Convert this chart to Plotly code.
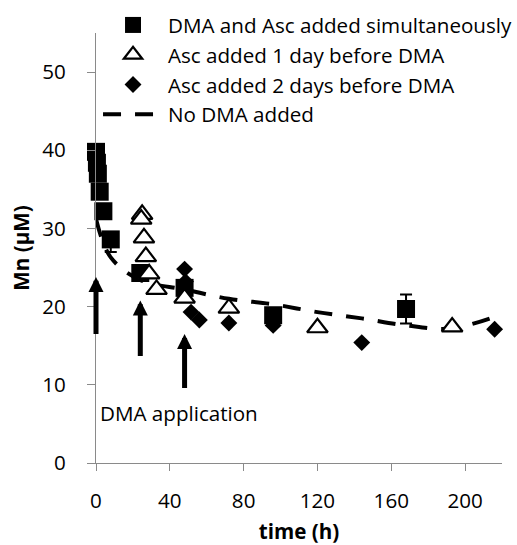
import plotly.graph_objects as go

# --- data -------------------------------------------------------------
# DMA and Asc added simultaneously
sim_t = [0, 0.5, 1, 2, 4, 8, 24, 48, 96, 168]
sim_mn = [39.8, 38.4, 37.0, 34.7, 32.2, 28.6, 24.3, 22.4, 18.9, 19.7]
sim_err_plus = [0, 0, 0, 0, 0, 0, 0, 0, 0, 1.85]
sim_err_minus = [0, 0, 0, 0, 0, 1.6, 0, 0, 0, 1.85]

# Asc added 1 day before DMA
asc1_t = [25, 24.5, 26, 27, 28.8, 32.8, 48, 72, 120, 193]
asc1_mn = [31.8, 31.2, 28.8, 26.4, 24.2, 22.2, 21.1, 19.8, 17.3, 17.4]

# Asc added 2 days before DMA
asc2_t = [48, 48.5, 51.5, 56, 72, 96, 144, 216]
asc2_mn = [24.8, 23.2, 19.3, 18.3, 17.9, 17.6, 15.4, 17.1]

# No DMA added (control)
ctrl_t = [0, 8, 24, 48, 72, 96, 120, 144, 168, 192, 216]
ctrl_mn = [31.2, 26.3, 23.4, 22.2, 21.0, 20.3, 19.3, 18.5, 17.6, 17.2, 18.7]

# DMA application times (arrow tip / tail levels)
dma_t = [0, 24, 48]
arrow_tip = [23.8, 20.8, 16.5]
arrow_tail = [16.3, 13.5, 9.4]

x_ticks = [0, 40, 80, 120, 160, 200]
y_ticks = [0, 10, 20, 30, 40, 50]

FONT = "Open Sans"
FONT_SIZE = 20.6
AXIS_GREY = "#8a8a8a"

fig = go.Figure()

fig.add_trace(go.Scatter(
    x=ctrl_t, y=ctrl_mn, mode="lines", name="No DMA added",
    line=dict(color="black", width=4, dash="18px,14px", shape="spline", smoothing=1),
    legendrank=4, cliponaxis=False,
))

fig.add_trace(go.Scatter(
    x=sim_t, y=sim_mn, mode="markers", name="DMA and Asc added simultaneously",
    marker=dict(symbol="square", size=18, color="black"),
    error_y=dict(type="data", array=sim_err_plus, arrayminus=sim_err_minus,
                 symmetric=False, color="black", thickness=2, width=6),
    legendrank=1, cliponaxis=False,
))

fig.add_trace(go.Scatter(
    x=asc1_t, y=asc1_mn, mode="markers", name="Asc added 1 day before DMA",
    marker=dict(symbol="triangle-up", size=18, color="white",
                line=dict(color="black", width=2.2)),
    legendrank=2, cliponaxis=False,
))

fig.add_trace(go.Scatter(
    x=asc2_t, y=asc2_mn, mode="markers", name="Asc added 2 days before DMA",
    marker=dict(symbol="diamond", size=13, color="black"),
    legendrank=3, cliponaxis=False,
))

# arrows marking DMA application
for t, tip, tail in zip(dma_t, arrow_tip, arrow_tail):
    fig.add_annotation(
        x=t, y=tip, ax=t, ay=tail, xref="x", yref="y", axref="x", ayref="y",
        showarrow=True, arrowhead=2, arrowsize=0.6, arrowwidth=5,
        arrowcolor="black", text="",
    )

fig.add_annotation(
    x=1.2, y=6.4, xref="x", yref="y", text="DMA application",
    showarrow=False, xanchor="left", yanchor="middle",
    font=dict(family=FONT, size=FONT_SIZE, color="black"),
)

fig.update_xaxes(
    range=[0, 220], tickvals=x_ticks, showline=True, linecolor=AXIS_GREY,
    linewidth=1, ticks="outside", ticklen=7, tickcolor=AXIS_GREY,
    showgrid=False, zeroline=False, ticklabelstandoff=12, tickangle=0,
    tickfont=dict(family=FONT, size=FONT_SIZE, color="black"),
    title=dict(text="<b>time (h)</b>", standoff=12,
               font=dict(family=FONT, size=FONT_SIZE, color="black")),
)
fig.update_yaxes(
    range=[0, 55], tickvals=y_ticks, showline=True, linecolor=AXIS_GREY,
    linewidth=1, ticks="outside", ticklen=8, tickcolor=AXIS_GREY,
    showgrid=False, zeroline=False, ticklabelstandoff=17,
    tickfont=dict(family=FONT, size=FONT_SIZE, color="black"),
    title=dict(text="<b>Mn (µM)</b>", standoff=7,
               font=dict(family=FONT, size=FONT_SIZE, color="black")),
)

fig.update_layout(
    width=517, height=545, autosize=False,
    margin=dict(l=96, r=15, t=33, b=82, autoexpand=False),
    paper_bgcolor="white", plot_bgcolor="white",
    showlegend=True,
    legend=dict(
        x=0.005, y=1.065, xanchor="left", yanchor="top",
        bgcolor="rgba(0,0,0,0)", itemwidth=60,
        font=dict(family=FONT, size=FONT_SIZE, color="black"),
        tracegroupgap=0,
    ),
)

fig.write_html("out.html")
